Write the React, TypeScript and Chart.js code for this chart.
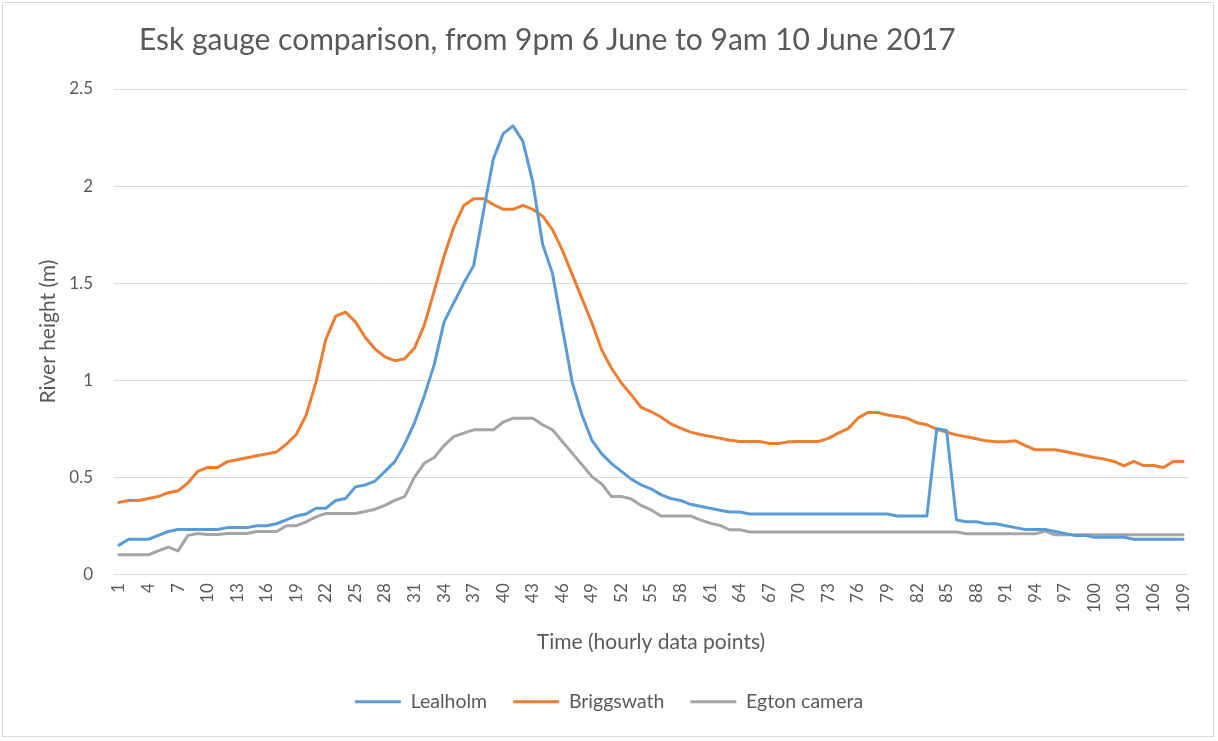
import React, { useRef, useEffect } from "react";
import Chart, { ChartConfiguration } from "chart.js/auto";

// hourly readings, 9pm 6 June to 9am 10 June 2017
const categories = Array.from({ length: 109 }, (_, i) => String(i + 1));

const lealholm = [
  0.15, 0.18, 0.18, 0.18, 0.2, 0.22, 0.23, 0.23, 0.23, 0.23,
  0.23, 0.24, 0.24, 0.24, 0.25, 0.25, 0.26, 0.28, 0.3, 0.31,
  0.34, 0.34, 0.38, 0.39, 0.45, 0.46, 0.48, 0.53, 0.58, 0.67,
  0.78, 0.92, 1.08, 1.3, 1.4, 1.5, 1.59, 1.87, 2.14, 2.27,
  2.31, 2.23, 2.02, 1.7, 1.55, 1.27, 0.99, 0.82, 0.69, 0.62,
  0.57, 0.53, 0.49, 0.46, 0.44, 0.41, 0.39, 0.38, 0.36, 0.35,
  0.34, 0.33, 0.32, 0.32, 0.31, 0.31, 0.31, 0.31, 0.31, 0.31,
  0.31, 0.31, 0.31, 0.31, 0.31, 0.31, 0.31, 0.31, 0.31, 0.3,
  0.3, 0.3, 0.3, 0.75, 0.74, 0.28, 0.27, 0.27, 0.26, 0.26,
  0.25, 0.24, 0.23, 0.23, 0.23, 0.22, 0.21, 0.2, 0.2, 0.19,
  0.19, 0.19, 0.19, 0.18, 0.18, 0.18, 0.18, 0.18, 0.18,
];

const briggswath = [
  0.37, 0.38, 0.38, 0.39, 0.4, 0.42, 0.43, 0.47, 0.53, 0.55,
  0.55, 0.58, 0.59, 0.6, 0.61, 0.62, 0.63, 0.67, 0.72, 0.82,
  0.99, 1.21, 1.33, 1.35, 1.3, 1.22, 1.16, 1.12, 1.1, 1.11,
  1.165, 1.285, 1.46, 1.64, 1.79, 1.9, 1.935, 1.935, 1.905, 1.88,
  1.88, 1.9, 1.88, 1.845, 1.775, 1.67, 1.545, 1.42, 1.295, 1.155,
  1.06, 0.985, 0.924, 0.86, 0.838, 0.81, 0.775, 0.753, 0.732, 0.72,
  0.71, 0.7, 0.69, 0.684, 0.684, 0.684, 0.674, 0.674, 0.682, 0.684,
  0.684, 0.684, 0.7, 0.727, 0.75, 0.804, 0.833, 0.833, 0.82, 0.813,
  0.804, 0.78, 0.77, 0.747, 0.732, 0.718, 0.708, 0.698, 0.687, 0.682,
  0.682, 0.687, 0.663, 0.641, 0.641, 0.641, 0.632, 0.622, 0.612, 0.601,
  0.593, 0.581, 0.558, 0.581, 0.56, 0.56, 0.55, 0.581, 0.581,
];

const egtonCamera = [
  0.1, 0.1, 0.1, 0.1, 0.12, 0.14, 0.12, 0.2, 0.21, 0.205,
  0.205, 0.21, 0.21, 0.21, 0.22, 0.22, 0.22, 0.25, 0.25, 0.27,
  0.295, 0.313, 0.313, 0.313, 0.313, 0.323, 0.335, 0.355, 0.38, 0.4,
  0.5, 0.572, 0.601, 0.663, 0.71, 0.727, 0.744, 0.744, 0.744, 0.784,
  0.804, 0.804, 0.804, 0.77, 0.744, 0.684, 0.624, 0.564, 0.503, 0.465,
  0.4, 0.4, 0.388, 0.354, 0.332, 0.3, 0.3, 0.3, 0.3, 0.28,
  0.263, 0.251, 0.229, 0.229, 0.218, 0.218, 0.218, 0.218, 0.218, 0.218,
  0.218, 0.218, 0.218, 0.218, 0.218, 0.218, 0.218, 0.218, 0.218, 0.218,
  0.218, 0.218, 0.218, 0.218, 0.218, 0.218, 0.208, 0.208, 0.208, 0.208,
  0.208, 0.208, 0.208, 0.208, 0.222, 0.203, 0.203, 0.203, 0.203, 0.203,
  0.203, 0.203, 0.203, 0.203, 0.203, 0.203, 0.203, 0.203, 0.203,
];

const textGrey = "#595959";
const font = "Lato";

const EskChart = () => {
  const chartRef = useRef<HTMLCanvasElement>(null);
  const chartInstanceRef = useRef<Chart>();

  useEffect(() => {
    const ctx = chartRef.current!.getContext("2d");
    if (chartInstanceRef.current) {
      chartInstanceRef.current.destroy();
    }

    const line = (label: string, data: number[], color: string) => ({
      label,
      data,
      borderColor: color,
      backgroundColor: color,
      borderWidth: 3,
      pointRadius: 0,
      borderCapStyle: "round" as const,
      borderJoinStyle: "round" as const,
      tension: 0,
    });

    const config: ChartConfiguration<"line"> = {
      type: "line",
      data: {
        labels: categories,
        datasets: [
          line("Lealholm", lealholm, "#5B9BD5"),
          line("Briggswath", briggswath, "#ED7D31"),
          line("Egton camera", egtonCamera, "#A5A5A5"),
        ],
      },
      options: {
        responsive: false,
        animation: false,
        layout: { padding: { top: 89, bottom: 19.5, left: 30, right: 30 } },
        plugins: {
          title: { display: false },
          tooltip: { enabled: false },
          legend: {
            position: "bottom",
            labels: {
              usePointStyle: true,
              pointStyle: "line",
              pointStyleWidth: 46,
              padding: 26,
              color: textGrey,
              font: { family: font, size: 19.5 },
            },
          },
        },
        scales: {
          x: {
            offset: true,
            grid: { display: false, drawTicks: false },
            border: { display: false },
            ticks: {
              autoSkip: false,
              maxRotation: 90,
              minRotation: 90,
              padding: 9,
              color: textGrey,
              font: { family: font, size: 17 },
              callback: (_v, i) => (i % 3 === 0 ? categories[i] : ""),
            },
            title: {
              display: true,
              text: "Time (hourly data points)",
              color: textGrey,
              font: { family: font, size: 21 },
              padding: { top: 0, bottom: 10.9 },
            },
            afterFit: (scale) => {
              scale.height = 91.8;
            },
          },
          y: {
            min: 0,
            max: 2.5,
            grid: { color: "#d9d9d9", drawTicks: false },
            border: { display: false },
            ticks: {
              stepSize: 0.5,
              padding: 21,
              color: textGrey,
              font: { family: font, size: 17 },
              callback: (v) => String(Number(v)),
            },
            title: {
              display: true,
              text: "River height (m)",
              color: textGrey,
              font: { family: font, size: 21 },
              padding: { top: 5.4, bottom: 0 },
            },
            afterFit: (scale) => {
              scale.width = 84;
            },
          },
        },
      },
    };

    if (ctx) {
      chartInstanceRef.current = new Chart(ctx, config);
    }

    return () => {
      if (chartInstanceRef.current) {
        chartInstanceRef.current.destroy();
      }
    };
  }, []);

  return (
    <div
      style={{
        position: "fixed",
        top: 0,
        left: 0,
        width: "1218px",
        height: "741px",
        background: "#fff",
        overflow: "hidden",
      }}
    >
      <canvas
        ref={chartRef}
        width={1218}
        height={741}
        style={{ position: "absolute", top: 0, left: 0, display: "block" }}
      />
      <div
        style={{
          position: "absolute",
          left: "139px",
          top: "20px",
          fontFamily: font,
          fontSize: "30px",
          color: textGrey,
          whiteSpace: "nowrap",
        }}
      >
        Esk gauge comparison, from 9pm 6 June to 9am 10 June 2017
      </div>
      <div
        style={{
          position: "absolute",
          left: "2px",
          top: "2px",
          width: "1210px",
          height: "733px",
          border: "1px solid #d9d9d9",
          pointerEvents: "none",
        }}
      />
    </div>
  );
};

export default function App() {
  return <EskChart />;
}
